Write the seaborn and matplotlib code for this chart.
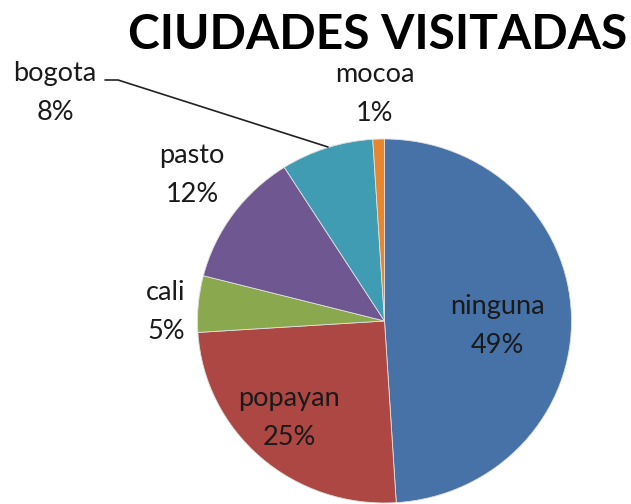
import matplotlib
matplotlib.use("Agg")
import matplotlib.pyplot as plt
import seaborn as sns

sns.set_style("white")
plt.rcParams['font.family'] = ['Lato', 'DejaVu Sans']

categories = ["ninguna", "popayan", "cali", "pasto", "bogota", "mocoa"]
values = [49, 25, 5, 12, 8, 1]
pct_labels = ["49%", "25%", "5%", "12%", "8%", "1%"]
colors = ["#4672A8", "#AC4744", "#8AA84E", "#6F5791", "#3F9CB3", "#E8852F"]
title = "CIUDADES VISITADAS"

W, H = 631, 504
fig = plt.figure(figsize=(W / 100, H / 100), dpi=100)
cx, cy, rx, ry = 384.5, 321, 187, 182
ax = fig.add_axes([(cx - rx) / W, (H - cy - ry) / H, 2 * rx / W, 2 * ry / H])

ax.pie(values, colors=colors, startangle=90, counterclock=False, radius=1,
       wedgeprops=dict(edgecolor="#e0e0e0", linewidth=0.6))
ax.set_aspect("auto")
ax.set_xlim(-1, 1)
ax.set_ylim(-1, 1)
ax.axis("off")

def d(px, py):
    return ((px - cx) / rx, (cy - py) / ry)

label_pos = {
    "ninguna": (497, 326),
    "popayan": (289, 418),
    "cali": (166, 312),
    "pasto": (192, 175),
    "bogota": (55, 93),
    "mocoa": (375, 94),
}
for cat, pct in zip(categories, pct_labels):
    x, y = d(*label_pos[cat])
    ax.text(x, y, f"{cat}\n{pct}", ha="center", va="center", fontsize=19.5,
            linespacing=1.7, color="#1a1a1a", clip_on=False)

# leader line for bogota
p0 = d(105, 80); p1 = d(118, 80); p2 = d(328, 147)
ax.plot([p0[0], p1[0], p2[0]], [p0[1], p1[1], p2[1]], color="#222222", lw=1.2, clip_on=False)

fig.text(378 / W, 1 - 35 / H, title, ha="center", va="center", fontsize=34.5,
         fontweight="bold", color="black")

fig.savefig("out.png", dpi=100, facecolor="white")
